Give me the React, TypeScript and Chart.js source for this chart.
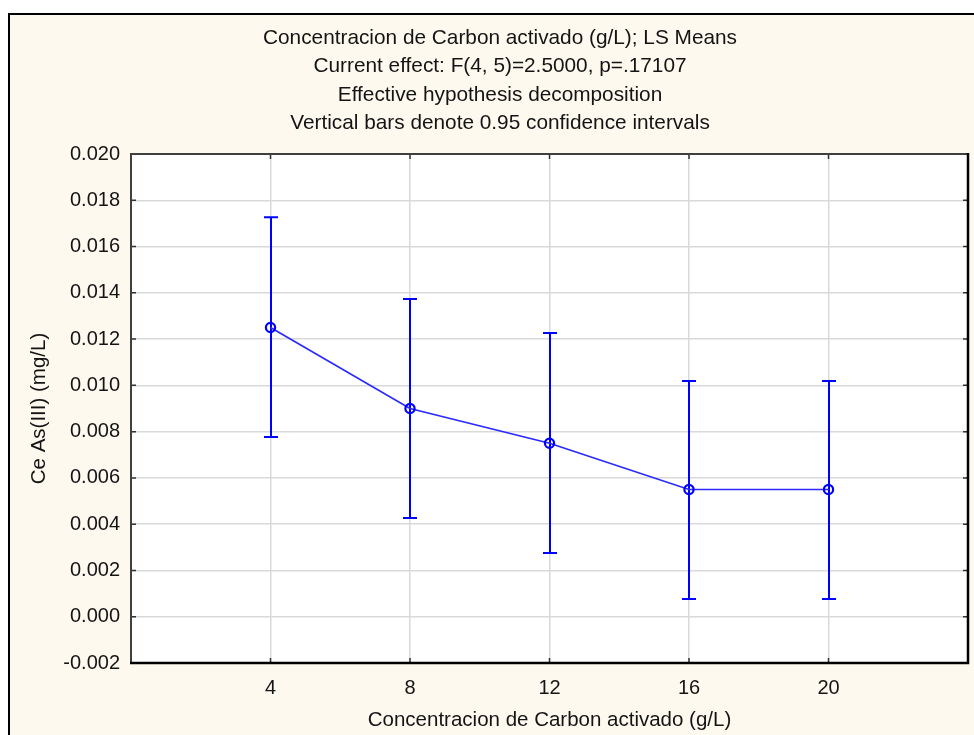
import React, { useEffect, useRef } from "react";
import { Chart, registerables } from "chart.js";

Chart.register(...registerables);

// ---- Data ----
const concentrations = [4, 8, 12, 16, 20];
const lsMeans = [0.0125, 0.009, 0.0075, 0.0055, 0.0055];
const ciLower = [0.00777, 0.00427, 0.00275, 0.00077, 0.00077];
const ciUpper = [0.01727, 0.01373, 0.01226, 0.01019, 0.01019];
const xTickValues = [4, 8, 12, 16, 20];
const xMin = 0;
const xMax = 24;
const yMin = -0.002;
const yMax = 0.02;
const yStep = 0.002;
const titleLines = [
  "Concentracion de Carbon activado (g/L); LS Means",
  "Current effect: F(4, 5)=2.5000, p=.17107",
  "Effective hypothesis decomposition",
  "Vertical bars denote 0.95 confidence intervals",
];
const xAxisTitle = "Concentracion de Carbon activado (g/L)";
const yAxisTitle = "Ce As(III) (mg/L)";

const FONT = "'Liberation Sans', Arial, Helvetica, sans-serif";
const TEXT = "#141414";
const BLUE = "#0000ff";

const plotBgPlugin = {
  id: "plotBg",
  beforeDraw(chart: any) {
    const { ctx, chartArea } = chart;
    ctx.save();
    ctx.fillStyle = "#ffffff";
    ctx.fillRect(chartArea.left, chartArea.top, chartArea.right - chartArea.left, chartArea.bottom - chartArea.top);
    ctx.restore();
  },
};

const titlePlugin = {
  id: "multiTitle",
  afterDraw(chart: any) {
    const { ctx, width } = chart;
    ctx.save();
    ctx.fillStyle = TEXT;
    ctx.font = `20.8px ${FONT}`;
    ctx.textAlign = "center";
    ctx.textBaseline = "middle";
    titleLines.forEach((line, i) => {
      ctx.fillText(line, width / 2, 23 + i * 28.4);
    });
    ctx.restore();
  },
};

const errorBarPlugin = {
  id: "errorBars",
  beforeDatasetsDraw(chart: any) {
    const { ctx, scales } = chart;
    const x = scales.x;
    const y = scales.y;
    ctx.save();
    ctx.strokeStyle = BLUE;
    ctx.lineWidth = 2;
    concentrations.forEach((c, i) => {
      const px = Math.round(x.getPixelForValue(c));
      const yl = y.getPixelForValue(ciLower[i]);
      const yu = y.getPixelForValue(ciUpper[i]);
      ctx.beginPath();
      ctx.moveTo(px, yl);
      ctx.lineTo(px, yu);
      ctx.moveTo(px - 7, yu);
      ctx.lineTo(px + 7, yu);
      ctx.moveTo(px - 7, yl);
      ctx.lineTo(px + 7, yl);
      ctx.stroke();
    });
    ctx.restore();
  },
};

const frameTicksPlugin = {
  id: "frameTicks",
  afterDraw(chart: any) {
    const { ctx, chartArea, scales } = chart;
    const { left, right, top, bottom } = chartArea;
    ctx.save();
    ctx.strokeStyle = "#333333";
    ctx.lineWidth = 1.5;
    ctx.beginPath();
    scales.y.ticks.forEach((t: any) => {
      const py = scales.y.getPixelForValue(t.value);
      ctx.moveTo(left, py);
      ctx.lineTo(left + 5, py);
      ctx.moveTo(right, py);
      ctx.lineTo(right - 5, py);
    });
    scales.x.ticks.forEach((t: any) => {
      const px = scales.x.getPixelForValue(t.value);
      ctx.moveTo(px, bottom);
      ctx.lineTo(px, bottom - 5);
      ctx.moveTo(px, top);
      ctx.lineTo(px, top + 5);
    });
    ctx.stroke();
    // frame
    ctx.strokeStyle = "#404040";
    ctx.lineWidth = 2;
    ctx.beginPath();
    ctx.moveTo(left, bottom);
    ctx.lineTo(left, top);
    ctx.lineTo(right, top);
    ctx.stroke();
    ctx.strokeStyle = "#000000";
    ctx.lineWidth = 2.5;
    ctx.beginPath();
    ctx.moveTo(left - 1, bottom);
    ctx.lineTo(right, bottom);
    ctx.lineTo(right, top - 1);
    ctx.stroke();
    ctx.restore();
  },
};

export default function App() {
  const canvasRef = useRef<HTMLCanvasElement | null>(null);

  useEffect(() => {
    if (!canvasRef.current) return;
    const chart = new Chart(canvasRef.current, {
      type: "line",
      data: {
        datasets: [
          {
            data: concentrations.map((c, i) => ({ x: c, y: lsMeans[i] })),
            borderColor: "#2a2aff",
            borderWidth: 1.7,
            pointRadius: 4.6,
            pointHoverRadius: 4.6,
            pointBorderWidth: 2.2,
            pointBorderColor: BLUE,
            pointBackgroundColor: "rgba(255,255,255,0)",
            tension: 0,
            fill: false,
          },
        ],
      },
      options: {
        responsive: false,
        animation: false,
        devicePixelRatio: 1,
        layout: { padding: { left: 0, right: 22, top: 139, bottom: 0 } },
        plugins: {
          legend: { display: false },
          tooltip: { enabled: false },
          title: { display: false },
        },
        scales: {
          x: {
            type: "linear",
            min: xMin,
            max: xMax,
            afterBuildTicks: (scale: any) => {
              scale.ticks = xTickValues.map((v) => ({ value: v }));
            },
            afterFit: (scale: any) => {
              scale.height = 72;
            },
            ticks: {
              color: TEXT,
              font: { family: FONT, size: 20 },
              padding: 13,
              maxRotation: 0,
              callback: (v: any) => String(v),
            },
            grid: { color: "#d9d9d9", lineWidth: 1.5, drawTicks: false },
            border: { display: false },
            title: {
              display: true,
              text: xAxisTitle,
              color: TEXT,
              font: { family: FONT, size: 20.5 },
              padding: { top: 0, bottom: 2.7 },
            },
          },
          y: {
            type: "linear",
            min: yMin,
            max: yMax,
            afterFit: (scale: any) => {
              scale.width = 121;
            },
            ticks: {
              stepSize: yStep,
              color: TEXT,
              font: { family: FONT, size: 20 },
              padding: 11,
              callback: (v: any) => {
                const n = Number(v);
                return Math.abs(n) < 1e-9 ? "0.000" : n.toFixed(3);
              },
            },
            grid: { color: "#d9d9d9", lineWidth: 1.5, drawTicks: false },
            border: { display: false },
            title: {
              display: true,
              text: yAxisTitle,
              color: TEXT,
              font: { family: FONT, size: 20.5 },
              padding: { top: 16.7, bottom: 0 },
            },
          },
        },
      },
      plugins: [plotBgPlugin, errorBarPlugin, frameTicksPlugin, titlePlugin],
    } as any);
    return () => chart.destroy();
  }, []);

  return (
    <div
      style={{
        position: "fixed",
        left: 0,
        top: 0,
        width: 974,
        height: 735,
        overflow: "hidden",
        background: "#ffffff",
      }}
    >
      <div
        style={{
          position: "absolute",
          left: 8,
          top: 13,
          width: 1000,
          height: 800,
          borderLeft: "2px solid #000",
          borderTop: "2px solid #000",
          background: "#fdf9ee",
        }}
      >
        <canvas
          ref={canvasRef}
          width={980}
          height={720}
          style={{ position: "absolute", left: 0, top: 0, width: 980, height: 720 }}
        />
      </div>
    </div>
  );
}
